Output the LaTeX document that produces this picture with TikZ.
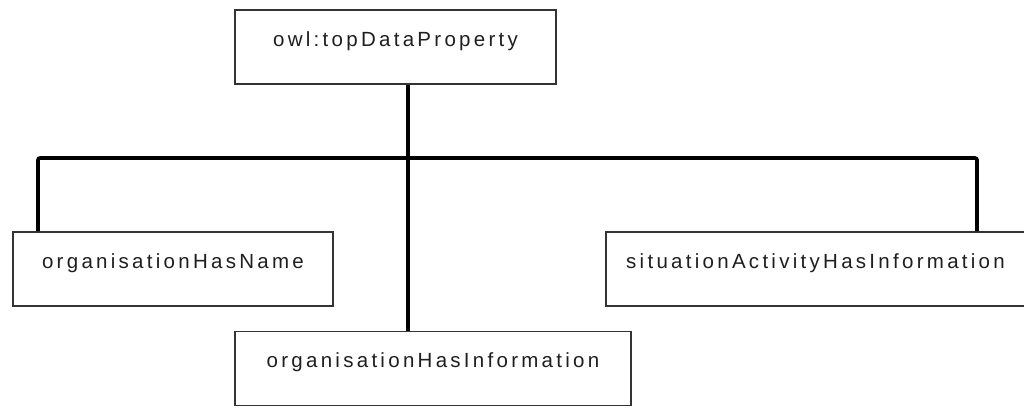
\documentclass[tikz,border=0pt]{standalone}
\usepackage{fontspec}
\setmainfont{Liberation Sans}[LetterSpace=16]
\begin{document}
\begin{tikzpicture}[x=1pt,y=-1pt,
  box/.style={draw=black!80, line width=1.8pt, fill=white, rectangle, inner sep=0pt,
    minimum height=74pt, text height=36pt, text depth=38pt, text=black!88,
    font=\fontsize{20.5}{24}\selectfont},
  conn/.style={draw=black, line width=3.6pt, rounded corners=2pt}]
\useasboundingbox (0,0) rectangle (1024,408);
\node[box, minimum width=321pt] (top) at (395.5,47) {owl:topDataProperty};
\node[box, minimum width=320pt] (n1) at (173,269) {organisationHasName};
\node[box, minimum width=419pt] (n3) at (815.5,269) {situationActivityHasInformation};
\node[box, minimum width=396pt, minimum height=73pt] (n2) at (433,368.5) {organisationHasInformation};
\coordinate (jl) at (38,158);
\coordinate (jr) at (977,158);
\coordinate (j) at (408,158);
\draw[conn] (jl |- n1.north) -- (jl) -- (jr) -- (jr |- n3.north);
\draw[conn] (j |- top.south) -- (j |- n2.north);
\end{tikzpicture}
\end{document}
